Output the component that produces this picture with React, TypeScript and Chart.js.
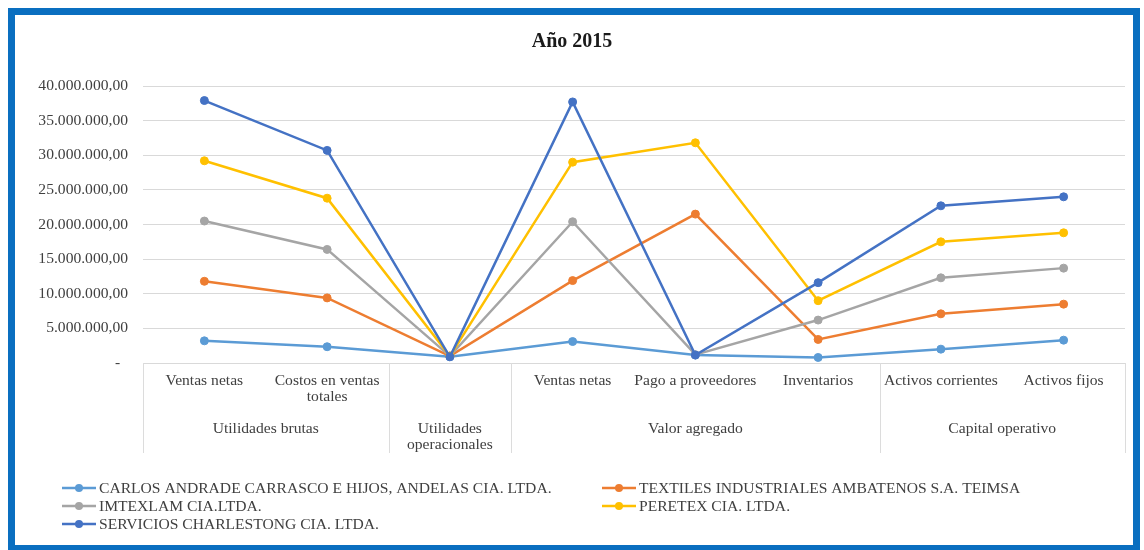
import React, { useEffect, useRef } from "react";
import { Chart, registerables } from "chart.js";

Chart.register(...registerables);

const categoryLabels: string[][] = [
  ["Ventas netas"],
  ["Costos en ventas", "totales"],
  [""],
  ["Ventas netas"],
  ["Pago a proveedores"],
  ["Inventarios"],
  ["Activos corrientes"],
  ["Activos fijos"],
];

const groupLabels: string[][] = [
  ["Utilidades brutas"],
  ["Utilidades", "operacionales"],
  ["Valor agregado"],
  ["Capital operativo"],
];
const groupSpans = [2, 1, 3, 2];

const seriesNames = [
  "CARLOS ANDRADE CARRASCO E HIJOS, ANDELAS CIA. LTDA.",
  "TEXTILES INDUSTRIALES AMBATENOS S.A. TEIMSA",
  "IMTEXLAM CIA.LTDA.",
  "PERETEX CIA. LTDA.",
  "SERVICIOS CHARLESTONG CIA. LTDA.",
];
const seriesColors = ["#5B9BD5", "#ED7D31", "#A5A5A5", "#FFC000", "#4472C4"];

const carlos = [3200000, 2350000, 900000, 3100000, 1150000, 800000, 2000000, 3300000];
const textiles = [11800000, 9400000, 1000000, 11900000, 21500000, 3400000, 7100000, 8500000];
const imtexlam = [20500000, 16400000, 1000000, 20400000, 1200000, 6200000, 12300000, 13700000];
const peretex = [29200000, 23800000, 1000000, 29000000, 31800000, 9000000, 17500000, 18800000];
const servicios = [37900000, 30700000, 900000, 37700000, 1150000, 11600000, 22700000, 24000000];
const seriesValues = [carlos, textiles, imtexlam, peretex, servicios];

const yMax = 40000000;
const yStep = 5000000;
const titleText = "Año 2015";

const FONT = '"Liberation Serif", "Times New Roman", serif';
const TEXT = "#404040";
const FS = 15.6;

function fmt(v: number): string {
  if (v === 0) return "-  ";
  const int = Math.round(v).toString().replace(/\B(?=(\d{3})+(?!\d))/g, ".");
  return int + ",00";
}

const decorPlugin = {
  id: "decor",
  afterDraw(chart: any) {
    const ctx = chart.ctx as CanvasRenderingContext2D;
    const area = chart.chartArea;
    const x = chart.scales.x;
    ctx.save();
    // title
    ctx.fillStyle = "#1a1a1a";
    ctx.font = `bold 20px ${FONT}`;
    ctx.textAlign = "center";
    ctx.textBaseline = "middle";
    ctx.fillText(titleText, chart.width / 2, 42);

    // category labels
    ctx.font = `${FS}px ${FONT}`;
    ctx.fillStyle = TEXT;
    categoryLabels.forEach((lines, i) => {
      const px = x.getPixelForValue(i);
      lines.forEach((ln, j) => ctx.fillText(ln, px, area.bottom + 18 + j * 16));
    });

    // group separators + labels
    const n = categoryLabels.length;
    const bound = (k: number) => {
      if (k <= 0) return area.left;
      if (k >= n) return area.right;
      return (x.getPixelForValue(k - 1) + x.getPixelForValue(k)) / 2;
    };
    ctx.strokeStyle = "#dcdcdc";
    ctx.lineWidth = 1;
    let start = 0;
    const edges: number[] = [0];
    groupSpans.forEach((s, gi) => {
      const a = bound(start);
      const b = bound(start + s);
      groupLabels[gi].forEach((ln, j) => ctx.fillText(ln, (a + b) / 2, area.bottom + 66 + j * 16));
      start += s;
      edges.push(start);
    });
    edges.forEach((k) => {
      const px = Math.round(bound(k)) + 0.5;
      ctx.beginPath();
      ctx.moveTo(px, area.bottom);
      ctx.lineTo(px, area.bottom + 90);
      ctx.stroke();
    });

    // legend
    const colX = [62, 602];
    const rowY = [488, 506, 524];
    ctx.textAlign = "left";
    ctx.font = `${FS}px ${FONT}`;
    seriesNames.forEach((name, i) => {
      const cx = colX[i % 2];
      const cy = rowY[Math.floor(i / 2)];
      ctx.strokeStyle = seriesColors[i];
      ctx.lineWidth = 2.5;
      ctx.beginPath();
      ctx.moveTo(cx, cy);
      ctx.lineTo(cx + 34, cy);
      ctx.stroke();
      ctx.fillStyle = seriesColors[i];
      ctx.beginPath();
      ctx.arc(cx + 17, cy, 4, 0, Math.PI * 2);
      ctx.fill();
      ctx.fillStyle = TEXT;
      ctx.fillText(name, cx + 37, cy + 1);
    });
    ctx.restore();
  },
};

export default function App() {
  const ref = useRef<HTMLCanvasElement | null>(null);
  useEffect(() => {
    if (!ref.current) return;
    const chart = new Chart(ref.current, {
      type: "line",
      data: {
        labels: categoryLabels.map((l) => l.join(" ")),
        datasets: seriesNames.map((name, i) => ({
          label: name,
          data: seriesValues[i],
          borderColor: seriesColors[i],
          backgroundColor: seriesColors[i],
          pointBackgroundColor: seriesColors[i],
          pointBorderColor: seriesColors[i],
          borderWidth: 2.5,
          pointRadius: 4,
          pointBorderWidth: 1,
          tension: 0,
          order: seriesNames.length - 1 - i,
        })),
      },
      options: {
        responsive: false,
        animation: false,
        layout: { padding: { top: 86, right: 19, left: 0, bottom: 0 } },
        plugins: {
          legend: { display: false },
          title: { display: false },
          tooltip: { enabled: false },
        },
        scales: {
          x: {
            type: "category",
            offset: true,
            grid: { display: false },
            border: { display: true, color: "#d9d9d9" },
            ticks: { display: false },
            afterFit: (s: any) => {
              s.height = 187;
            },
          },
          y: {
            min: 0,
            max: yMax,
            ticks: {
              stepSize: yStep,
              padding: 15,
              color: TEXT,
              font: { family: FONT, size: FS },
              callback: (v: any) => fmt(Number(v)),
            },
            grid: { color: "#d9d9d9", drawTicks: false },
            border: { display: false },
            afterFit: (s: any) => {
              s.width = 143;
            },
          },
        },
      },
      plugins: [decorPlugin],
    });
    return () => chart.destroy();
  }, []);

  return (
    <div style={{ position: "fixed", left: 0, top: 0, width: 1144, height: 550, background: "#fff" }}>
      <canvas ref={ref} width={1144} height={550} style={{ position: "absolute", left: 0, top: 0 }} />
      <div
        style={{
          position: "absolute",
          left: 8,
          top: 8,
          width: 1132,
          height: 542,
          boxSizing: "border-box",
          border: "7px solid #0A6FC0",
          borderBottomWidth: 5,
          pointerEvents: "none",
        }}
      />
    </div>
  );
}
